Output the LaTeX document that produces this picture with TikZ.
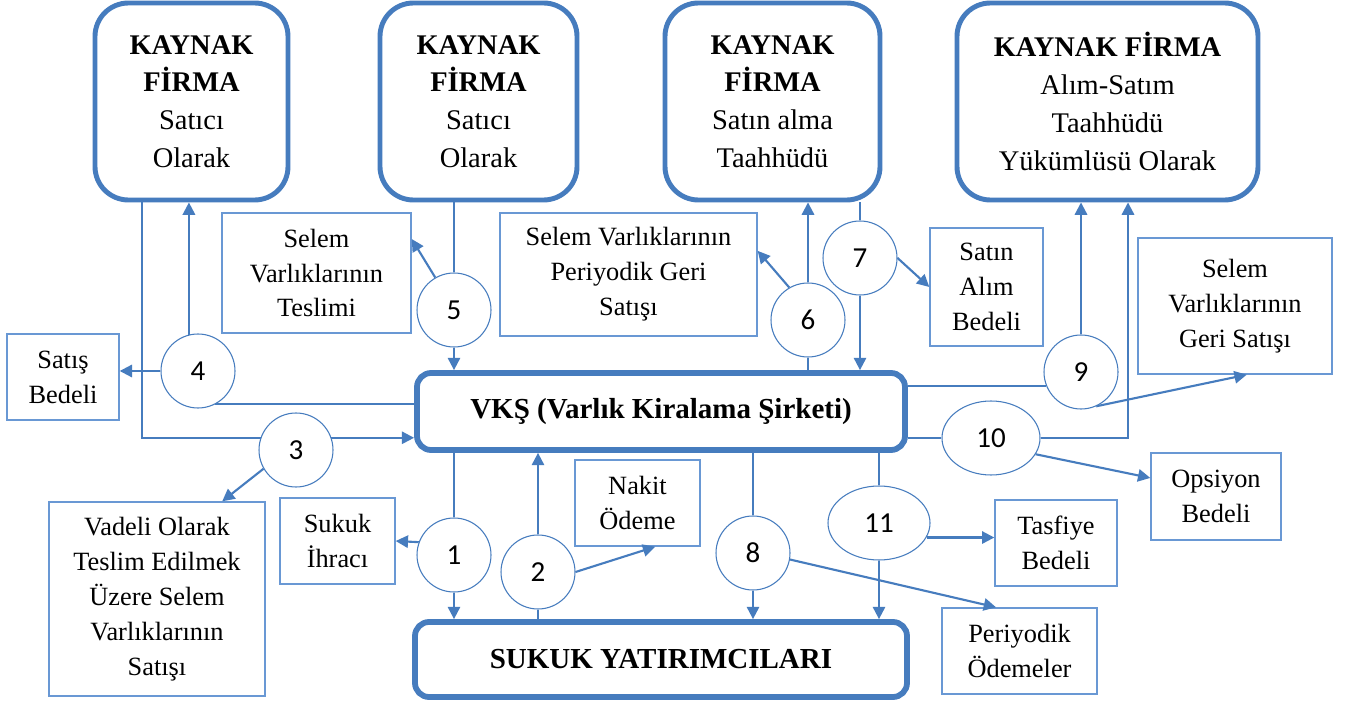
\documentclass[tikz,border=0pt]{standalone}
\usepackage{fontspec}
\setmainfont{Liberation Serif}
\newfontfamily\numfont{Carlito}
\usetikzlibrary{shapes.geometric,arrows.meta,calc}
\newlength\pxl \setlength\pxl{0.02cm}
\definecolor{edge}{RGB}{70,124,190}
\definecolor{thinedge}{RGB}{105,152,212}

\tikzset{
  firm/.style={draw=edge, line width=2.8pt, rounded corners=19pt, align=center, inner sep=0pt,
    font=\fontsize{16.2}{21.5}\selectfont},
  hub/.style={draw=edge, line width=3.3pt, rounded corners=8pt, inner sep=0pt,
    font=\fontsize{16.5}{20}\selectfont\bfseries},
  note/.style={draw=thinedge, line width=0.8pt, align=center, inner sep=0pt,
    font=\fontsize{15}{19.9}\selectfont},
  num/.style={draw=edge, line width=0.6pt, ellipse, inner sep=0pt, fill=white,
    font=\numfont\fontsize{16.5}{18}\selectfont, minimum height=74*\pxl, minimum width=74*\pxl},
  link/.style={draw=edge, line width=1.2pt},
  arr/.style={link, -{Triangle[length=7pt,width=7pt]}}
}

\begin{document}
\begin{tikzpicture}[x=0.02cm,y=-0.02cm]
\useasboundingbox (0,0) rectangle (1349,702);
\fill[white] (0,0) rectangle (1349,702);

% source firms
\node[firm, minimum width=193*\pxl, minimum height=197*\pxl] (k1) at (191.5,101.5)
  {\textbf{KAYNAK}\\\textbf{FİRMA}\\Satıcı\\Olarak};
\node[firm, minimum width=197*\pxl, minimum height=197*\pxl] (k2) at (478.5,101.5)
  {\textbf{KAYNAK}\\\textbf{FİRMA}\\Satıcı\\Olarak};
\node[firm, minimum width=215*\pxl, minimum height=197*\pxl] (k3) at (772.5,101.5)
  {\textbf{KAYNAK}\\\textbf{FİRMA}\\Satın alma\\Taahhüdü};
\node[firm, minimum width=301*\pxl, minimum height=197*\pxl] (k4) at (1107.5,101.5)
  {\textbf{KAYNAK FİRMA}\\Alım-Satım\\Taahhüdü\\Yükümlüsü Olarak};

% company and investors
\node[hub, minimum width=488*\pxl, minimum height=77*\pxl] (vks) at (661,411.5)
  {VKŞ (Varlık Kiralama Şirketi)};
\node[hub, minimum width=492*\pxl, minimum height=75*\pxl] (suk) at (661,659.5)
  {SUKUK YATIRIMCILARI};

% flow descriptions
\node[note, minimum width=112*\pxl, minimum height=86*\pxl] (satis) at (63,377) {Satış\\Bedeli};
\node[note, minimum width=189*\pxl, minimum height=120*\pxl] (teslim) at (316.5,273)
  {Selem\\Varlıklarının\\Teslimi};
\node[note, minimum width=257*\pxl, minimum height=123*\pxl] (pgs) at (628.5,274.5)
  {Selem Varlıklarının\\Periyodik Geri\\Satışı};
\node[note, minimum width=113*\pxl, minimum height=118*\pxl] (sab) at (986.5,287)
  {Satın\\Alım\\Bedeli};
\node[note, minimum width=194*\pxl, minimum height=136*\pxl] (gs) at (1235,306)
  {Selem\\Varlıklarının\\Geri Satışı};
\node[note, minimum width=216*\pxl, minimum height=194*\pxl] (vadeli) at (157,599)
  {Vadeli Olarak\\Teslim Edilmek\\Üzere Selem\\Varlıklarının\\Satışı};
\node[note, minimum width=115*\pxl, minimum height=86*\pxl] (ihrac) at (337.5,541)
  {Sukuk\\İhracı};
\node[note, minimum width=125*\pxl, minimum height=86*\pxl] (nakit) at (637.5,503)
  {Nakit\\Ödeme};
\node[note, minimum width=130*\pxl, minimum height=87*\pxl] (opsiyon) at (1216,496.5)
  {Opsiyon\\Bedeli};
\node[note, minimum width=122*\pxl, minimum height=86*\pxl] (tasfiye) at (1056,543)
  {Tasfiye\\Bedeli};
\node[note, minimum width=155*\pxl, minimum height=86*\pxl] (podeme) at (1019.5,651)
  {Periyodik\\Ödemeler};

% step markers
\node[num] (c1) at (454,555) {1};
\node[num] (c2) at (538,572) {2};
\node[num] (c3) at (296,450) {3};
\node[num] (c4) at (198,371) {4};
\node[num] (c5) at (454,310) {5};
\node[num] (c6) at (808,320) {6};
\node[num] (c7) at (860,258) {7};
\node[num] (c8) at (753,553) {8};
\node[num] (c9) at (1081,372) {9};
\node[num, minimum width=98*\pxl] (c10) at (991,438) {10};
\node[num, minimum width=102*\pxl] (c11) at (879,523) {11};

\coordinate (x142) at (142,0);
\coordinate (x1128) at (1128,0);

% 1
\draw[link] (c1.north |- vks.south) -- (c1.north);
\draw[arr] (c1.south) -- (c1.south |- suk.north);
\draw[arr] (c1.160) -- (ihrac.east);
% 2
\draw[link] (c2.south |- suk.north) -- (c2.south);
\draw[arr] (c2.north) -- (c2.north |- vks.south);
\draw[arr] (c2.east) -- ($(nakit.south west)!0.64!(nakit.south east)$);
% 3
\draw[link] (k1.south -| x142) |- (c3.161);
\draw[arr] (c3.19) -- (c3.19 -| vks.west);
\draw[arr] (c3.-150) -- ($(vadeli.north west)!0.8!(vadeli.north east)$);
% 4
\draw[link] (c4.-63) -- (c4.-63 -| vks.west);
\draw[arr] (c4.104) -- (c4.104 |- k1.south);
\draw[arr] (c4.west) -- (c4.west -| satis.east);
% 5
\draw[link] (c5.north |- k2.south) -- (c5.north);
\draw[arr] (c5.south) -- (c5.south |- vks.north);
\draw[arr] (c5.120) -- ($(teslim.north east)!0.22!(teslim.south east)$);
% 6
\draw[link] (c6.south |- vks.north) -- (c6.south);
\draw[arr] (c6.north) -- (c6.north |- k3.south);
\draw[arr] (c6.120) -- ($(pgs.north east)!0.31!(pgs.south east)$);
% 7
\draw[link] (c7.north |- k3.south) -- (c7.north);
\draw[arr] (c7.south) -- (c7.south |- vks.north);
\draw[arr] (c7.east) -- (sab.west);
% 8
\draw[link] (c8.north |- vks.south) -- (c8.north);
\draw[arr] (c8.south) -- (c8.south |- suk.north);
\draw[arr] (c8.-10) -- ($(podeme.north west)!0.35!(podeme.north east)$);
% 9
\draw[link] (c9.202 -| vks.east) -- (c9.202);
\draw[arr] (c9.north) -- (c9.north |- k4.south);
\draw[arr] (c9.-66) -- ($(gs.south west)!0.56!(gs.south east)$);
% 10
\draw[link] (c10.west -| vks.east) -- (c10.west);
\draw[arr] (c10.east) -| (k4.south -| x1128);
\draw[arr] (c10.-20) -- ($(opsiyon.north west)!0.29!(opsiyon.south west)$);
% 11
\draw[link] (c11.north |- vks.south) -- (c11.north);
\draw[arr] (c11.south) -- (c11.south |- suk.north);
\draw[arr] (c11.-17) -- (c11.-17 -| tasfiye.west);
\end{tikzpicture}
\end{document}
